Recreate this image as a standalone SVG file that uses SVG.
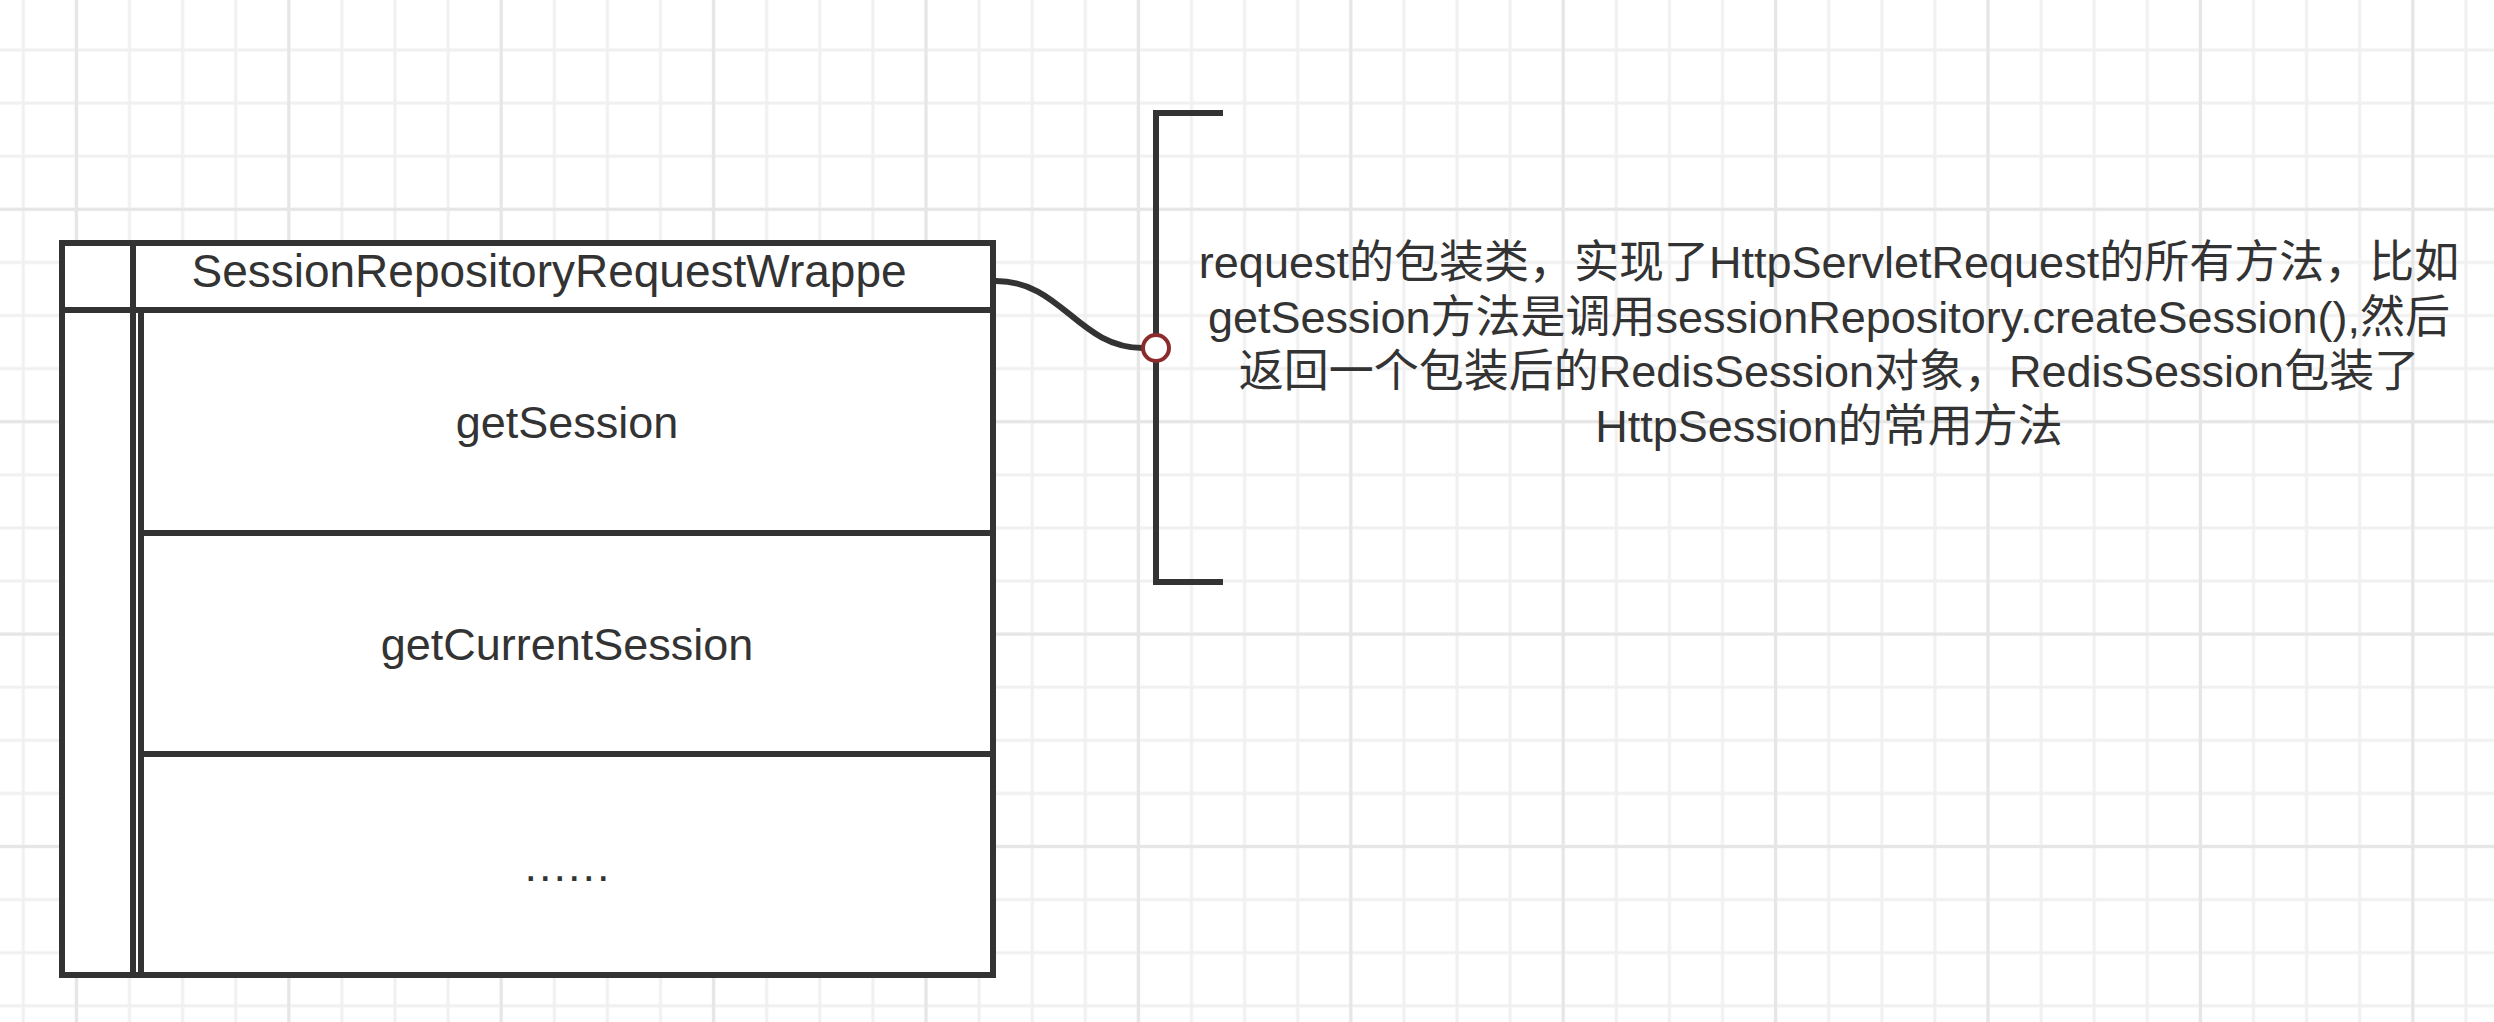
<svg xmlns="http://www.w3.org/2000/svg" width="2494" height="1022" viewBox="0 0 2494 1022">
  <style>
    .ln { fill: none; stroke: #333333; stroke-width: 6; stroke-linejoin: miter; }
    .box { fill: #ffffff; stroke: #333333; stroke-width: 6; }
    .lbl { font-family: "Liberation Sans", "Noto Sans CJK SC", sans-serif; font-size: 45px; fill: #333333; text-anchor: middle; }
  </style>
  <defs>
    <pattern id="gMinor" x="-3.25" y="23.45" width="53.1" height="53.1" patternUnits="userSpaceOnUse">
      <path d="M0 26.55H53.1M26.55 0V53.1" stroke="#f0f0f0" stroke-width="3" fill="none"/>
    </pattern>
    <pattern id="gMajor" x="-29.8" y="103.1" width="212.4" height="212.4" patternUnits="userSpaceOnUse">
      <path d="M0 106.2H212.4M106.2 0V212.4" stroke="#e6e6e6" stroke-width="3" fill="none"/>
    </pattern>
  </defs>

  <g id="background">
    <rect x="0" y="0" width="2494" height="1022" fill="#ffffff"/>
    <rect x="0" y="0" width="2494" height="1022" fill="url(#gMinor)"/>
    <rect x="0" y="0" width="2494" height="1022" fill="url(#gMajor)"/>
  </g>

  <g id="connectors">
    <path class="ln" d="M996 281 C1062 281 1078 348 1143 348"/>
  </g>

  <g id="class-node">
    <rect class="box" x="62" y="243" width="931" height="732"/>
    <line class="ln" x1="133" y1="243" x2="133" y2="975"/>
    <line class="ln" x1="62" y1="310" x2="993" y2="310"/>
    <text class="lbl" x="549" y="287" style="font-size:46px">SessionRepositoryRequestWrappe</text>
  </g>

  <g id="row-getSession">
    <rect class="box" x="141" y="310" width="852" height="223"/>
    <text class="lbl" x="567" y="438">getSession</text>
  </g>

  <g id="row-getCurrentSession">
    <rect class="box" x="141" y="533" width="852" height="221"/>
    <text class="lbl" x="567" y="660">getCurrentSession</text>
  </g>

  <g id="row-more">
    <rect class="box" x="141" y="754" width="852" height="221"/>
    <text class="lbl" x="568" y="881" style="letter-spacing:2px">......</text>
  </g>

  <g id="annotation">
    <path class="ln" d="M1223 113 H1156 V582 H1223"/>
    <circle cx="1156" cy="348" r="13" fill="#ffffff" stroke="#8b2b2b" stroke-width="4"/>
    <text class="lbl" x="1829" y="278">request的包装类，实现了HttpServletRequest的所有方法，比如</text>
    <text class="lbl" x="1829" y="333">getSession方法是调用sessionRepository.createSession(),然后</text>
    <text class="lbl" x="1829" y="387">返回一个包装后的RedisSession对象，RedisSession包装了</text>
    <text class="lbl" x="1829" y="442">HttpSession的常用方法</text>
  </g>
</svg>
